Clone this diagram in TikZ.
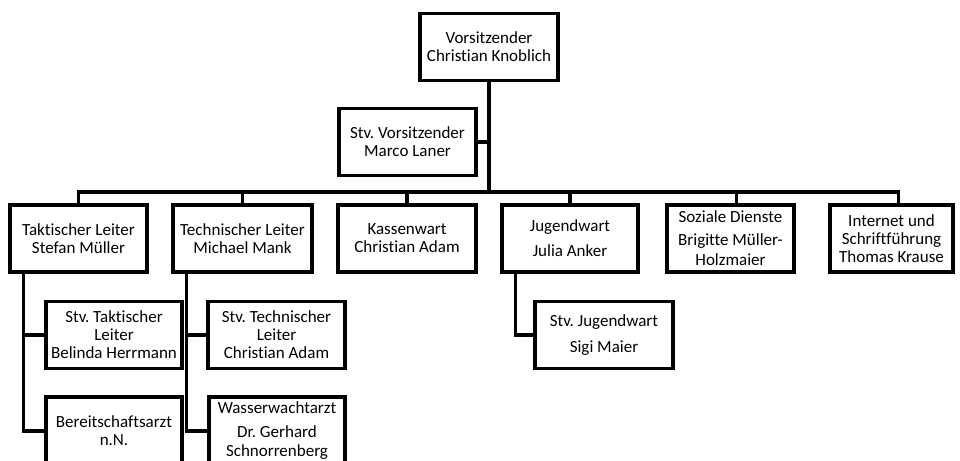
\documentclass[tikz,border=0pt]{standalone}
\usepackage{fontspec}
\setmainfont{Carlito}[Ligatures=NoCommon]
\usetikzlibrary{positioning}
\frenchspacing

\tikzset{
  posten/.style={draw, line width=3.2pt, align=center, inner sep=2pt,
    minimum width=136pt, minimum height=67pt, text=black,
    font=\fontsize{17}{18}\selectfont},
  linie/.style={line width=3.2pt}
}

\begin{document}
\begin{tikzpicture}[x=1pt,y=-1pt,thick]
  \useasboundingbox (0,0) rectangle (960,460);
  \clip (0,0) rectangle (960,460);

  % Vorstand
  \node[posten,minimum width=138pt] (vors) at (489,47) {Vorsitzender\\Christian Knoblich};
  \node[posten,minimum width=137pt] (stvvors) at (407.5,142) {Stv. Vorsitzender\\Marco Laner};
  \coordinate (bar) at (0,192);

  % Leiter
  \node[posten,minimum width=137pt] (takt) at (78.5,238.5) {Taktischer Leiter\\Stefan Müller};
  \node[posten,minimum width=139pt] (tech) at (242.5,238.5) {Technischer Leiter\\Michael Mank};
  \node[posten,minimum width=138pt] (kasse) at (407,238.5) {Kassenwart\\Christian Adam};
  \node[posten] (jugend) at (570,238.5) {Jugendwart\\[7pt]Julia Anker};
  \node[posten,minimum width=127pt] (sozial) at (730.5,238.5) {Soziale Dienste\\[5pt]Brigitte Müller-\\[2pt]Holzmaier};
  \node[posten,minimum width=123pt] (intern) at (891.5,238.5) {Internet und\\Schriftführung\\Thomas Krause};

  % Stellvertreter
  \node[posten] (stvtakt) at (114,335) {Stv. Taktischer\\Leiter\\Belinda Herrmann};
  \node[posten,minimum height=68pt] (arzt) at (114,431) {Bereitschaftsarzt\\n.N.};
  \node[posten,minimum width=137pt] (stvtech) at (276.5,335) {Stv. Technischer\\Leiter\\Christian Adam};
  \node[posten,minimum height=68pt] (wwarzt) at (277,431) {Wasserwachtarzt\\[6pt]Dr. Gerhard\\[1pt]Schnorrenberg};
  \node[posten,minimum width=138pt] (stvjugend) at (604,335) {Stv. Jugendwart\\[8pt]Sigi Maier};

  % Verbindungen
  \draw[linie] (vors.south) -- (vors.south |- bar);
  \draw[linie] (stvvors.east) -- (stvvors.east -| vors.south);
  \draw[linie] (takt.north) -- (takt.north |- bar) -- ([xshift=7pt]intern.north |- bar) -- ([xshift=7pt]intern.north);
  \foreach \n in {tech,kasse,jugend}
    \draw[linie] (\n.north) -- (\n.north |- bar);
  \draw[linie] ([xshift=6pt]sozial.north) -- ([xshift=6pt]sozial.north |- bar);

  \foreach \a/\b in {takt/stvtakt,takt/arzt,tech/stvtech,tech/wwarzt,jugend/stvjugend}
    \draw[linie] ([xshift=15pt]\a.south west) |- (\b.west);
\end{tikzpicture}
\end{document}
